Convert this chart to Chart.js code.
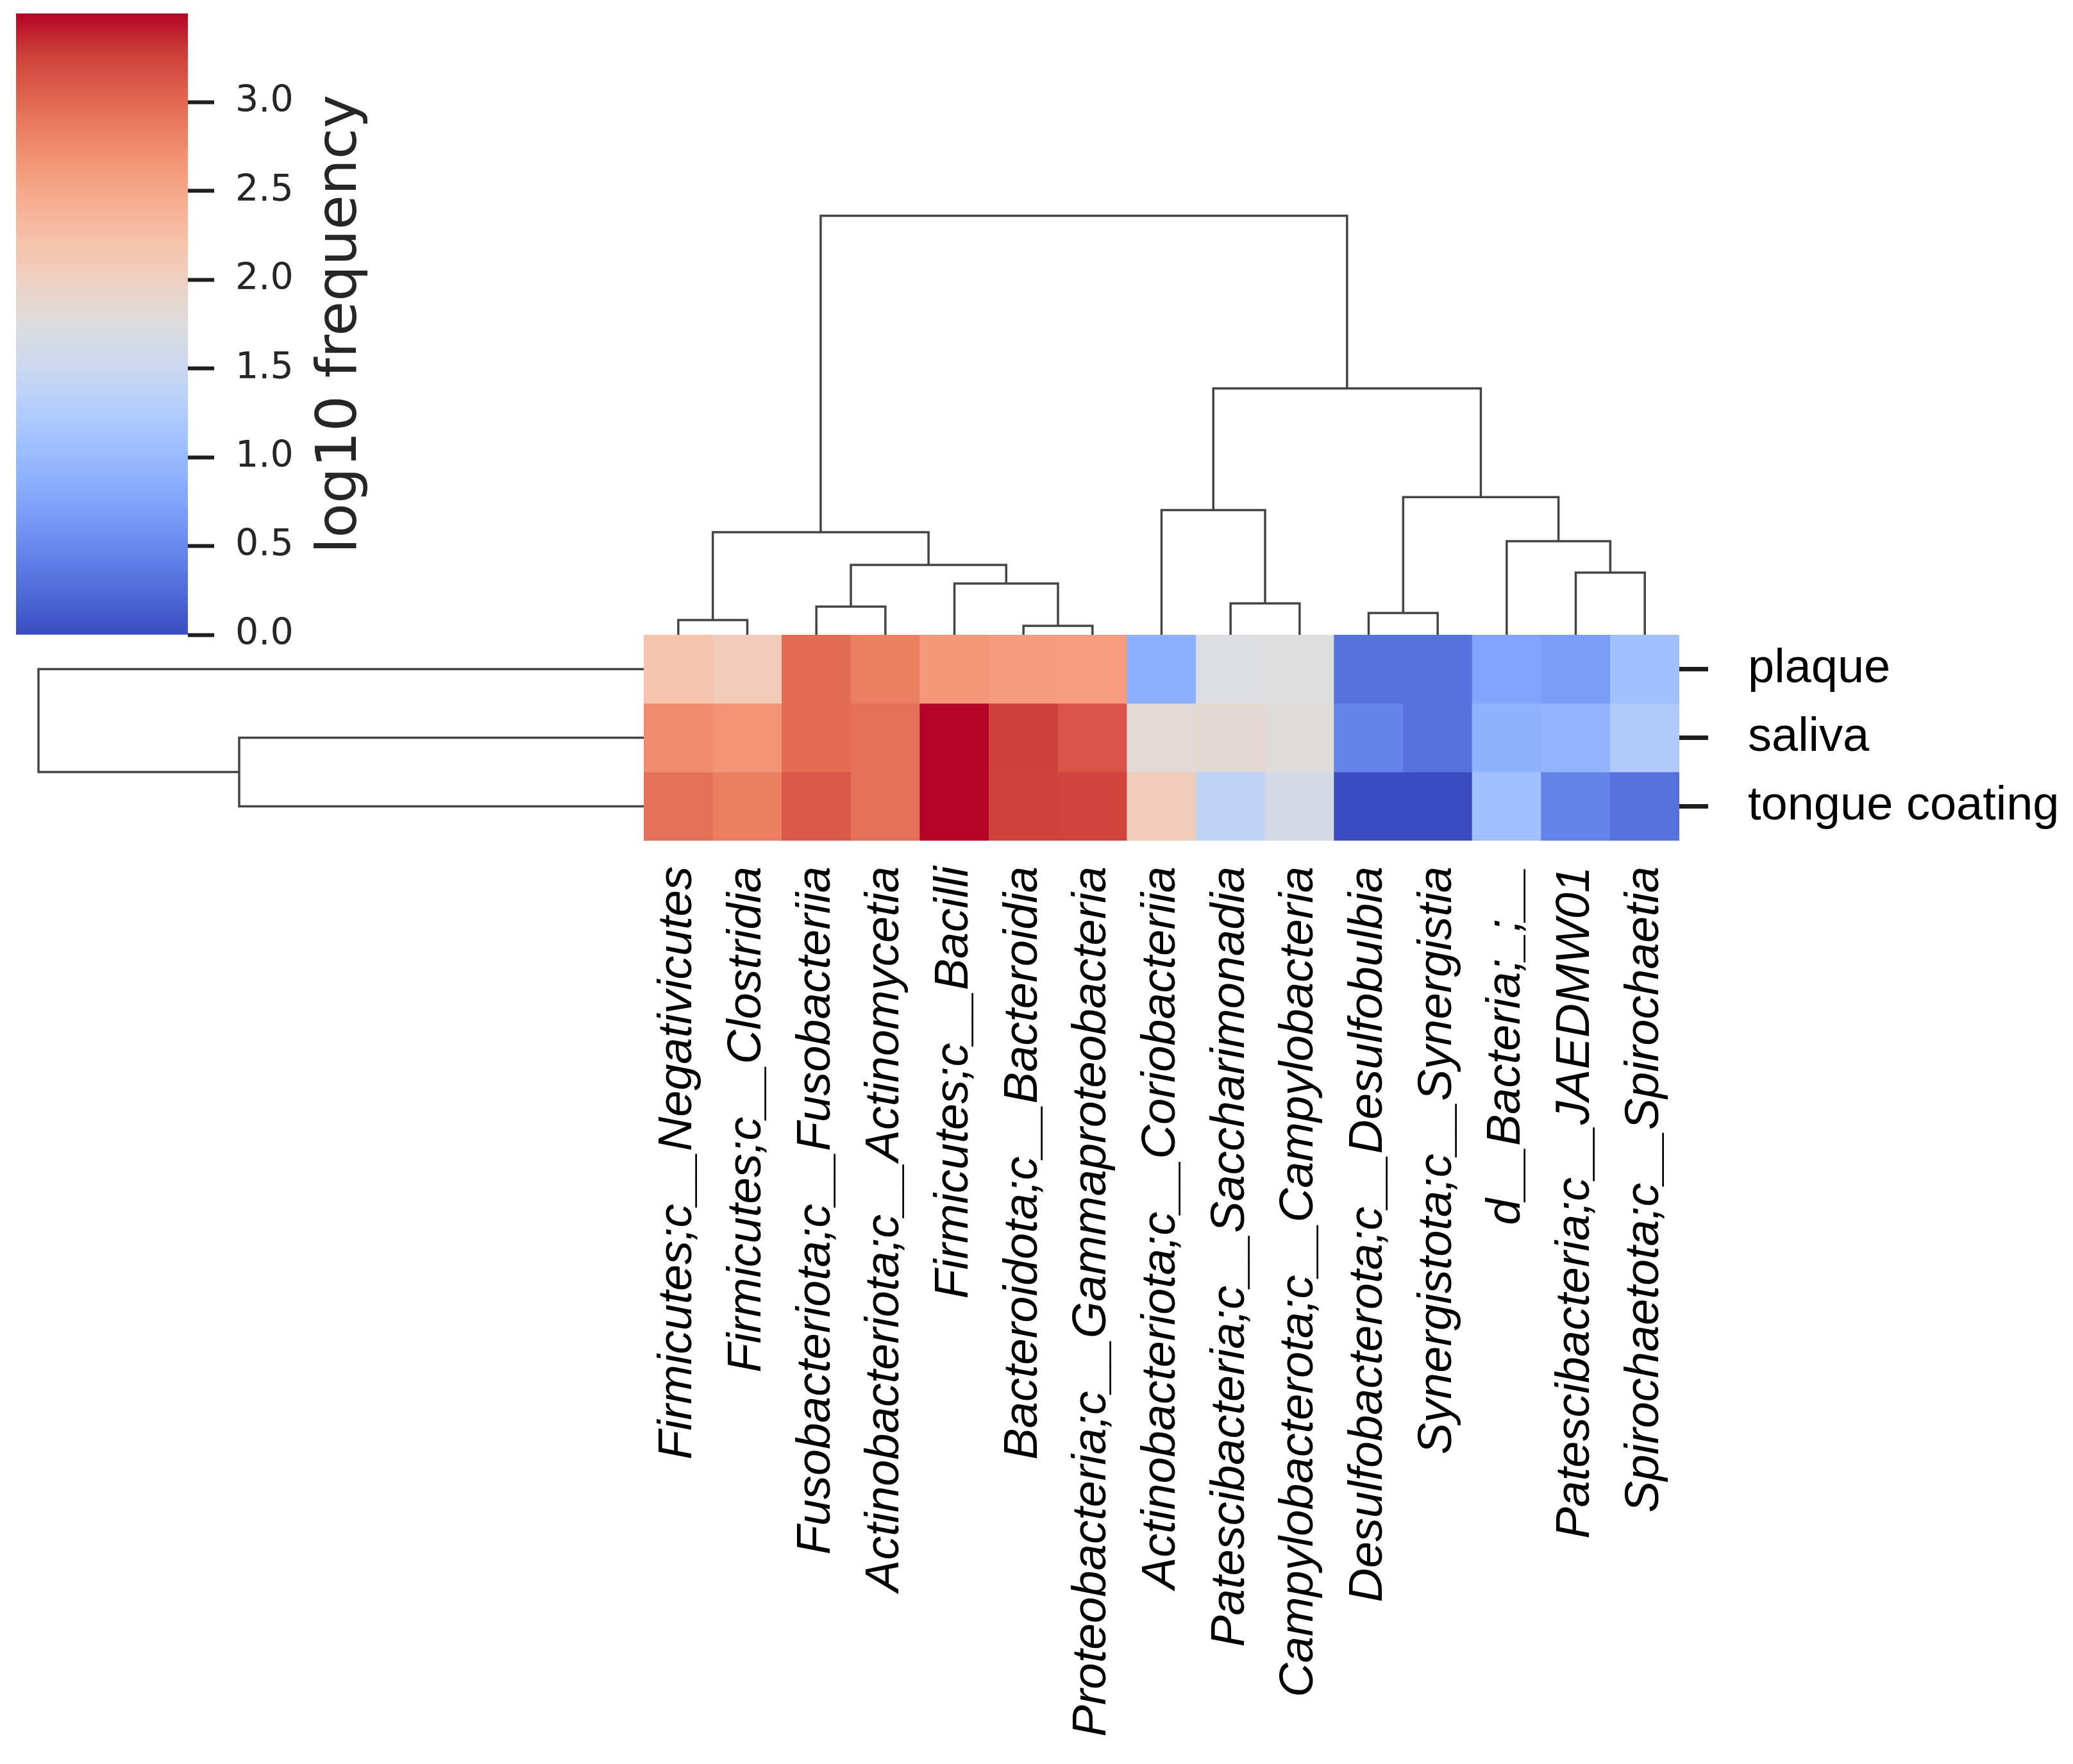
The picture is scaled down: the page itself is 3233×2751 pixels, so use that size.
<!DOCTYPE html>
<html>
<head>
<meta charset="utf-8">
<script src="https://cdn.jsdelivr.net/npm/chart.js@4.4.1/dist/chart.umd.min.js"></script>
<style>
  body { margin: 0; background: #fff; }
  #page { position: relative; width: 3233px; height: 2751px; overflow: hidden; background: #fff; }
  .box { position: absolute; }
</style>
</head>
<body>
<div id="page">
  <div class="box" style="left:0;top:0;width:700px;height:1040px"><canvas id="cb"></canvas></div>
  <div class="box" style="left:1004px;top:300px;width:1615px;height:690px"><canvas id="colTree"></canvas></div>
  <div class="box" style="left:0;top:990px;width:1004px;height:321px"><canvas id="rowTree"></canvas></div>
  <div class="box" style="left:1004px;top:990px;width:2229px;height:1761px"><canvas id="heat"></canvas></div>
</div>
<script>
// columns in dendrogram order (left -> right)
const columns = [
  "Firmicutes;c__Negativicutes", "Firmicutes;c__Clostridia", "Fusobacteriota;c__Fusobacteriia",
  "Actinobacteriota;c__Actinomycetia", "Firmicutes;c__Bacilli", "Bacteroidota;c__Bacteroidia",
  "Proteobacteria;c__Gammaproteobacteria", "Actinobacteriota;c__Coriobacteriia",
  "Patescibacteria;c__Saccharimonadia", "Campylobacterota;c__Campylobacteria",
  "Desulfobacterota;c__Desulfobulbia", "Synergistota;c__Synergistia", "d__Bacteria;_;__",
  "Patescibacteria;c__JAEDMW01", "Spirochaetota;c__Spirochaetia"
];
const rows = ["plaque", "saliva", "tongue coating"];

// log10 frequency per row
const plaque = [2.19, 2.07, 2.98, 2.85, 2.64, 2.61, 2.59, 0.88, 1.74, 1.75, 0.30, 0.30, 0.77, 0.69, 1.08];
const saliva = [2.74, 2.67, 2.98, 2.95, 3.50, 3.26, 3.14, 1.81, 1.85, 1.77, 0.46, 0.30, 0.90, 0.93, 1.23];
const tongue = [2.95, 2.85, 3.11, 2.95, 3.50, 3.25, 3.24, 2.06, 1.38, 1.64, 0.00, 0.00, 1.08, 0.46, 0.30];

// colour bar range and ticks
const cbRange = [0, 3.5];
const cbTicks = [0, 0.5, 1.0, 1.5, 2.0, 2.5, 3.0];

// column linkage (scipy style: node ids >= 15 are merges)
const colLinkA = [5, 0, 10, 2, 8, 4, 13, 18, 12, 16, 7, 17, 25, 24];
const colLinkB = [6, 1, 11, 3, 9, 15, 14, 20, 21, 22, 19, 23, 26, 27];
const colLinkH = [0.14, 0.23, 0.34, 0.44, 0.49, 0.80, 0.97, 1.09, 1.46, 1.60, 1.945, 2.146, 3.84, 6.53];

// row linkage
const rowLinkA = [1, 0];
const rowLinkB = [2, 3];
const rowLinkH = [6.31, 9.44];

// coolwarm colormap stops
const coolStops = [
  [59,76,192],[77,104,215],[98,130,234],[119,154,247],[141,176,254],[162,193,255],
  [184,208,249],[204,217,238],[221,221,221],[236,211,197],[245,196,173],[247,177,148],
  [244,154,123],[236,127,99],[222,96,77],[203,62,56],[180,4,38]
];
function coolwarm(t) {
  t = Math.max(0, Math.min(1, t));
  const f = t * (coolStops.length - 1);
  const i = Math.min(Math.floor(f), coolStops.length - 2);
  const k = f - i;
  const a = coolStops[i], b = coolStops[i + 1];
  const c = a.map((v, j) => Math.round(v + (b[j] - v) * k));
  return `rgb(${c[0]},${c[1]},${c[2]})`;
}

const arial = "'Liberation Sans', Arial, sans-serif";
const dejavu = "'DejaVu Sans', sans-serif";
const lineColor = '#444';

// turn a linkage into U-shaped line segments
function treeLines(nLeaves, A, B, H) {
  const pos = [], hgt = [];
  for (let i = 0; i < nLeaves; i++) { pos.push(i); hgt.push(0); }
  const sets = [];
  A.forEach((a, k) => {
    const b = B[k], h = H[k];
    sets.push([[pos[a], hgt[a]], [pos[a], h], [pos[b], h], [pos[b], hgt[b]]]);
    pos.push((pos[a] + pos[b]) / 2);
    hgt.push(h);
  });
  return sets;
}

// keep scale label overflow from shrinking the plot area
const noPad = (s) => { s.paddingTop = 0; s.paddingBottom = 0; s.paddingLeft = 0; s.paddingRight = 0; };

const lineSet = (pts) => ({
  data: pts, showLine: true, pointRadius: 0, borderColor: lineColor,
  borderWidth: 3.5, clip: false, tension: 0
});
const common = {
  responsive: true, maintainAspectRatio: false, animation: false,
  plugins: { legend: { display: false }, tooltip: { enabled: false } }
};

// ---- colour bar ----
const cbTitle = {
  id: 'cbTitle',
  afterDraw(chart) {
    const c = chart.ctx;
    c.save();
    c.translate(532, (chart.chartArea.top + chart.chartArea.bottom) / 2);
    c.rotate(-Math.PI / 2);
    c.font = `88px ${dejavu}`;
    c.fillStyle = '#262626';
    c.textAlign = 'center';
    c.textBaseline = 'middle';
    c.fillText('log10 frequency', 0, 0);
    c.restore();
  }
};
new Chart(document.querySelector('#cb'), {
  type: 'bar',
  data: {
    labels: [''],
    datasets: [{
      data: [cbRange],
      barPercentage: 1, categoryPercentage: 1, borderWidth: 0,
      backgroundColor: (ctx) => {
        const area = ctx.chart.chartArea;
        const y = ctx.chart.scales.y;
        if (!area || !y) return '#ddd';
        const y0 = y.getPixelForValue(cbRange[0]), y1 = y.getPixelForValue(cbRange[1]);
        if (!isFinite(y0) || !isFinite(y1)) return '#ddd';
        const g = ctx.chart.ctx.createLinearGradient(0, y0, 0, y1);
        coolStops.forEach((s, i) => g.addColorStop(i / (coolStops.length - 1), `rgb(${s[0]},${s[1]},${s[2]})`));
        return g;
      }
    }]
  },
  options: {
    ...common,
    layout: { padding: { left: 25, top: 21, bottom: 50, right: 0 } },
    scales: {
      x: { display: false },
      y: {
        position: 'right', min: cbRange[0], max: cbRange[1],
        afterBuildTicks: (s) => { s.ticks = cbTicks.map(v => ({ value: v })); },
        afterFit: (s) => { s.width = 407; noPad(s); },
        border: { display: false },
        grid: { drawOnChartArea: false, tickLength: 41, tickWidth: 6, tickColor: '#1e1e1e' },
        ticks: { padding: 33, color: '#262626', font: { family: dejavu, size: 57 },
                 callback: (v) => Number(v).toFixed(1) }
      }
    }
  },
  plugins: [cbTitle]
});

// ---- column dendrogram ----
new Chart(document.querySelector('#colTree'), {
  type: 'scatter',
  data: {
    datasets: treeLines(columns.length, colLinkA, colLinkB, colLinkH)
      .map(seg => lineSet(seg.map(p => ({ x: p[0], y: p[1] }))))
  },
  options: {
    ...common,
    layout: { padding: { top: 36.6, left: 0, right: 0, bottom: 0 } },
    scales: {
      x: { display: false, min: -0.5, max: columns.length - 0.5 },
      y: { display: false, min: 0, max: colLinkH[colLinkH.length - 1] }
    }
  }
});

// ---- row dendrogram ----
new Chart(document.querySelector('#rowTree'), {
  type: 'scatter',
  data: {
    datasets: treeLines(rows.length, rowLinkA, rowLinkB, rowLinkH)
      .map(seg => lineSet(seg.map(p => ({ x: p[1], y: p[0] }))))
  },
  options: {
    ...common,
    layout: { padding: { left: 60, top: 0, right: 0, bottom: 0 } },
    scales: {
      x: { display: false, reverse: true, min: 0, max: rowLinkH[rowLinkH.length - 1] },
      y: { display: false, reverse: true, min: -0.5, max: rows.length - 0.5 }
    }
  }
});

// ---- heatmap ----
const rowValues = [plaque, saliva, tongue];
new Chart(document.querySelector('#heat'), {
  type: 'bar',
  data: {
    labels: columns,
    datasets: rowValues.map((vals, r) => {
      const y0 = rows.length - 1 - r;
      return {
        label: rows[r],
        data: vals.map(() => [y0, y0 + 1]),
        backgroundColor: vals.map(v => coolwarm((v - cbRange[0]) / (cbRange[1] - cbRange[0]))),
        borderWidth: 0, grouped: false, barPercentage: 1, categoryPercentage: 1
      };
    })
  },
  options: {
    ...common,
    layout: { padding: 0 },
    scales: {
      x: {
        type: 'category',
        afterFit: (s) => { s.height = 1440; noPad(s); },
        border: { display: false },
        grid: { display: false, drawTicks: false },
        ticks: {
          autoSkip: false, minRotation: 90, maxRotation: 90, padding: 40, color: '#000',
          font: { family: arial, size: 74, style: 'italic' }
        }
      },
      y: {
        position: 'right', min: 0, max: rows.length,
        afterBuildTicks: (s) => { s.ticks = rows.map((_, i) => ({ value: i + 0.5 })); },
        afterFit: (s) => { s.width = 614; noPad(s); },
        border: { display: false },
        grid: { drawOnChartArea: false, tickLength: 45, tickWidth: 7, tickColor: '#1e1e1e' },
        ticks: {
          padding: 62, color: '#000', font: { family: arial, size: 74 },
          callback: (v) => rows[rows.length - 1 - Math.floor(v)]
        }
      }
    }
  }
});
</script>
</body>
</html>
